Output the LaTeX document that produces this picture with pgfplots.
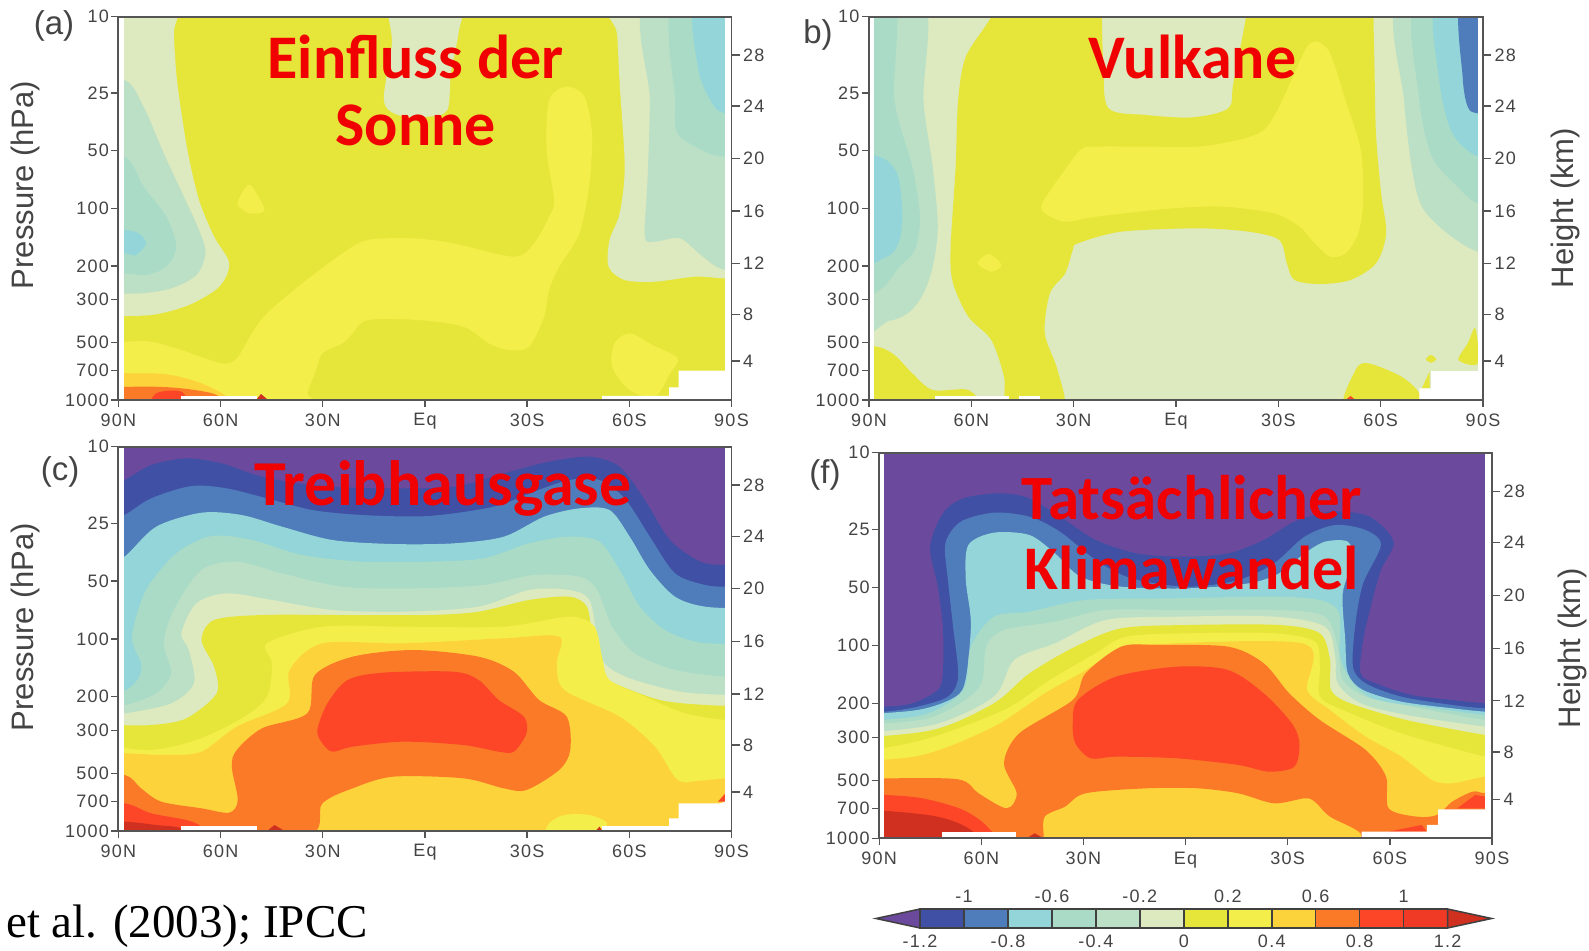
\documentclass[border=0pt]{standalone}
\usepackage{fontspec}
\usepackage{pgfplots}
\pgfplotsset{compat=1.18}
\setmainfont{Liberation Sans}
\newfontfamily\tickf[LetterSpace=7]{Liberation Sans}
\newfontfamily\titlefont{Carlito}
\newfontfamily\serifx{Liberation Serif}
\definecolor{cP}{HTML}{6B4A9E}
\definecolor{cD}{HTML}{3F50A5}
\definecolor{cB}{HTML}{4F7CBA}
\definecolor{cT}{HTML}{93D5D8}
\definecolor{cGa}{HTML}{A9DBC6}
\definecolor{cGb}{HTML}{BCE0C6}
\definecolor{cL}{HTML}{DDE9BE}
\definecolor{cYa}{HTML}{E6E63A}
\definecolor{cYb}{HTML}{F4EE4A}
\definecolor{cOa}{HTML}{FDD33C}
\definecolor{cOb}{HTML}{FA7A28}
\definecolor{cRa}{HTML}{FD4528}
\definecolor{cRb}{HTML}{F03A26}
\definecolor{cRc}{HTML}{D0301F}
\definecolor{axgray}{HTML}{555555}
\definecolor{txgray}{HTML}{444444}
\definecolor{ttl}{HTML}{F00000}
\newcommand\fs[1]{\fontsize{#1}{#1}\selectfont}
% closed smooth region
\newcommand\reg[2]{\addplot[fill=#1,draw=none,smooth cycle,tension=0.5] coordinates {#2};}
% region under a contour that runs from left to right
\newcommand\band[4]{\addplot[fill=#1,draw=none,smooth cycle,tension=0.5] coordinates {(-100,#2) #4 (1700,#3) (1800,3000) (-300,3000)};}
% straight-edged region
\newcommand\poly[2]{\addplot[fill=#1,draw=none] coordinates {#2};}
\pgfplotsset{
 panel/.style n args={8}{
  at={(#1pt,#2pt)},anchor=south west,scale only axis,width=#3pt,height=#4pt,
  xmin=-90,xmax=90,x dir=reverse,ymin=1,ymax=3,y dir=reverse,
  x filter/.expression={90-180*(x-#5)/(#6-#5)},
  y filter/.expression={1+2*(y-#7)/(#8-#7)},
  axis on top,
  xtick={90,60,30,0,-30,-60,-90},
  xticklabels={90N,60N,30N,Eq,30S,60S,90S},
  ytick={1,1.398,1.699,2,2.301,2.477,2.699,2.845,3},
  yticklabels={10,25,50,100,200,300,500,700,1000},
  xtick pos=bottom,ytick pos=left,tick align=outside,major tick length=7pt,
  axis line style={line width=1.8pt,color=axgray},
  tick style={line width=1.3pt,color=axgray},
  tick label style={font=\tickf\fs{18},text=txgray},
  xticklabel style={yshift=-3pt},
  yticklabel style={xshift=1pt},
 },
 rightax/.style n args={4}{
  at={(#1pt,#2pt)},anchor=south west,scale only axis,width=#3pt,height=#4pt,
  xmin=0,xmax=1,ymin=1,ymax=3,y dir=reverse,
  hide x axis,axis y line*=right,
  ytick={1.2,1.466,1.739,2.014,2.287,2.553,2.797},
  yticklabels={28,24,20,16,12,8,4},
  tick align=outside,major tick length=8pt,
  axis line style={line width=1.8pt,color=axgray},
  tick style={line width=1.3pt,color=axgray},
  tick label style={font=\tickf\fs{18},text=txgray},
 },
}
\newcommand\lab[4]{\node[inner sep=0pt,anchor=center,#4] at (#1pt,{(950-#2)*1pt}) {#3};}
\begin{document}
\begin{tikzpicture}
\path[use as bounding box] (0pt,0pt) rectangle (1589pt,950pt);
%------------------------ panel a
\begin{axis}[panel={118.4}{550}{613.1}{383.3}{235}{1452}{50}{1200}]
\poly{cYa}{(200,0)(1500,0)(1500,1250)(200,1250)}
\reg{cL}{(150,0)(345,0)(345,100)(352,250)(372,450)(395,600)(425,710)(455,790)(435,860)(375,915)(300,945)(200,948)(150,948)}
\reg{cGb}{(150,240)(247,240)(285,320)(325,460)(365,590)(395,690)(408,760)(390,825)(340,865)(280,880)(200,880)(150,880)}
\reg{cGa}{(150,470)(247,470)(285,560)(330,650)(350,740)(330,800)(290,825)(247,820)(150,820)}
\reg{cT}{(200,690)(247,690)(275,700)(290,730)(270,765)(247,760)(200,760)}
\reg{cYb}{(497,555)(525,630)(495,640)(472,615)(480,580)}
\reg{cL}{(778,0)(778,130)(762,300)(790,345)(850,350)(888,330)(895,220)(910,100)(912,0)}
\reg{cL}{(1220,0)(1225,100)(1230,250)(1240,500)(1230,640)(1210,720)(1208,800)(1240,840)(1300,845)(1380,830)(1440,835)(1550,835)(1550,0)}
\reg{cGb}{(1285,0)(1290,300)(1285,550)(1280,710)(1300,725)(1350,715)(1395,770)(1440,810)(1550,820)(1550,0)}
\reg{cGa}{(1340,0)(1340,300)(1345,400)(1400,455)(1440,470)(1550,470)(1550,0)}
\reg{cT}{(1385,0)(1385,200)(1410,300)(1440,340)(1550,345)(1550,0)}
\reg{cYb}{(200,1025)(247,1025)(300,1025)(360,1050)(440,1090)(470,1075)(500,1000)(530,940)(600,850)(680,760)(730,720)(820,715)(900,730)(1020,770)(1060,730)(1090,650)(1100,600)(1085,450)(1090,300)(1125,260)(1160,290)(1175,400)(1170,550)(1150,700)(1110,800)(1090,870)(1080,950)(1050,1040)(1010,1050)(970,1030)(920,980)(830,960)(730,960)(700,1000)(680,1030)(640,1060)(625,1120)(610,1180)(610,1230)(200,1230)}
\reg{cYb}{(1250,1000)(1295,1035)(1345,1075)(1330,1120)(1300,1190)(1250,1170)(1215,1100)(1220,1030)}
\reg{cOa}{(150,1130)(280,1120)(340,1125)(400,1150)(450,1190)(450,1230)(150,1230)}
\reg{cOb}{(150,1170)(280,1160)(360,1165)(430,1185)(440,1230)(150,1230)}
\reg{cRa}{(310,1180)(360,1175)(375,1230)(300,1230)}
\poly{white}{(360,1188)(510,1188)(510,1230)(360,1230)}
\poly{white}{(1195,1188)(1328,1188)(1328,1162)(1347,1162)(1347,1112)(1440,1112)(1440,1230)(1195,1230)}
\poly{cRc}{(510,1197)(518,1182)(530,1197)}
\poly{white}{(200,0)(247,0)(247,1250)(200,1250)}
\poly{white}{(1440,0)(1500,0)(1500,1250)(1440,1250)}
\end{axis}
\begin{axis}[rightax={118.4}{550}{613.1}{383.3}]\end{axis}
%------------------------ panel b
\begin{axis}[panel={869}{550}{614}{383.3}{155}{1360}{50}{1200}]
\poly{cL}{(100,0)(1420,0)(1420,1250)(100,1250)}
\reg{cGb}{(100,0)(262,0)(262,300)(280,500)(290,680)(280,800)(262,880)(235,935)(195,962)(100,965)}
\reg{cGa}{(100,0)(205,0)(205,300)(240,500)(255,650)(245,750)(215,800)(175,870)(100,880)}
\reg{cT}{(100,470)(175,470)(210,520)(220,630)(215,720)(190,770)(100,800)}
\reg{cYa}{(395,0)(395,50)(345,170)(330,300)(325,500)(315,750)(320,850)(350,950)(395,1020)(420,1130)(430,1230)(535,1230)(525,1110)(500,1000)(510,880)(540,820)(555,750)(565,730)(650,695)(800,685)(900,695)(960,720)(975,790)(990,840)(1040,852)(1100,840)(1150,790)(1170,700)(1160,580)(1150,400)(1147,200)(1145,50)(1145,0)(895,0)(895,50)(870,250)(860,325)(790,352)(700,345)(625,325)(615,200)(612,50)(612,0)}
\reg{cYb}{(1035,125)(1060,160)(1090,300)(1120,450)(1125,600)(1115,700)(1090,760)(1060,770)(1030,730)(1000,680)(950,640)(850,620)(750,625)(600,650)(540,665)(500,640)(495,610)(530,530)(570,450)(600,440)(700,440)(800,440)(880,420)(930,390)(960,320)(990,220)(1015,140)}
\reg{cYb}{(390,762)(415,795)(395,815)(368,790)}
\reg{cYa}{(100,1040)(170,1040)(205,1065)(240,1120)(280,1170)(350,1170)(360,1230)(100,1230)}
\reg{cYa}{(1090,1230)(1110,1110)(1135,1090)(1200,1130)(1235,1180)(1235,1230)}
\reg{cYa}{(1345,985)(1350,1090)(1312,1080)(1330,1030)}
\poly{cYa}{(1255,1115)(1255,1165)(1240,1165)}
\reg{cYa}{(1258,1065)(1268,1078)(1258,1088)(1248,1078)}
\reg{cGb}{(1195,0)(1205,300)(1220,500)(1240,620)(1290,700)(1350,755)(1420,760)(1420,0)}
\reg{cGa}{(1230,0)(1235,300)(1260,470)(1310,560)(1350,610)(1420,620)(1420,0)}
\reg{cT}{(1270,0)(1275,250)(1300,400)(1350,470)(1420,480)(1420,0)}
\reg{cB}{(1317,0)(1320,230)(1330,320)(1350,340)(1420,345)(1420,0)}
\poly{white}{(285,1188)(430,1188)(430,1230)(285,1230)}
\poly{white}{(450,1188)(490,1188)(490,1230)(450,1230)}
\poly{white}{(1235,1188)(1235,1165)(1258,1165)(1258,1113)(1350,1113)(1350,1230)(1235,1230)}
\poly{cRa}{(1090,1200)(1100,1188)(1110,1200)}
\poly{white}{(100,0)(165,0)(165,1250)(100,1250)}
\poly{white}{(1350,0)(1420,0)(1420,1250)(1350,1250)}
\end{axis}
\begin{axis}[rightax={869}{550}{614}{383.3}]\end{axis}
%------------------------ panel c
\begin{axis}[panel={118.4}{119}{613.1}{384.3}{235}{1452}{50}{1203}]
\poly{cP}{(200,0)(1500,0)(1500,1250)(200,1250)}
\band{cD}{170}{410}{(200,170)(247,150)(300,105)(370,85)(440,100)(520,140)(620,165)(750,175)(900,170)(1000,130)(1090,95)(1170,80)(1230,110)(1280,210)(1330,330)(1390,395)(1440,405)(1500,410)}
\band{cB}{280}{470}{(200,280)(247,255)(300,205)(380,168)(450,175)(530,205)(620,240)(720,255)(850,258)(980,230)(1060,185)(1130,150)(1190,150)(1240,205)(1290,320)(1340,430)(1400,465)(1440,470)(1500,470)}
\band{cT}{410}{535}{(200,410)(247,380)(310,290)(400,248)(480,255)(560,290)(660,330)(780,342)(900,340)(1000,320)(1080,260)(1150,235)(1210,240)(1250,320)(1290,420)(1340,500)(1400,530)(1500,535)}
\band{cGa}{790}{645}{(200,790)(250,780)(275,745)(280,700)(262,620)(290,480)(350,370)(420,318)(500,330)(600,375)(720,395)(850,395)(960,385)(1050,340)(1130,320)(1190,335)(1230,420)(1270,530)(1320,600)(1380,635)(1440,642)(1500,645)}
\band{cGb}{830}{745}{(200,830)(250,825)(310,790)(340,730)(325,640)(345,540)(400,420)(470,395)(560,430)(680,470)(820,475)(960,465)(1060,435)(1150,440)(1185,480)(1215,590)(1260,670)(1340,720)(1440,740)(1500,745)}
\band{cL}{855}{800}{(200,855)(250,850)(340,820)(385,760)(375,660)(360,610)(390,520)(450,490)(540,510)(660,540)(800,545)(950,530)(1050,480)(1130,480)(1170,510)(1185,620)(1200,700)(1250,745)(1350,785)(1440,795)(1500,800)}
\band{cYa}{885}{828}{(200,885)(300,885)(370,865)(430,790)(425,710)(400,630)(425,570)(520,555)(680,555)(850,555)(950,545)(1050,510)(1130,500)(1165,530)(1175,620)(1185,720)(1220,760)(1310,810)(1400,825)(1500,828)}
\band{cYb}{950}{870}{(200,950)(300,960)(390,930)(480,865)(530,800)(540,700)(530,640)(640,590)(800,590)(1000,590)(1130,560)(1180,590)(1195,680)(1210,750)(1280,800)(1360,850)(1440,870)(1500,870)}
\band{cOa}{975}{1040}{(200,975)(247,970)(330,975)(400,965)(470,890)(570,820)(575,720)(640,640)(800,640)(1000,625)(1110,620)(1105,700)(1120,780)(1230,860)(1300,950)(1345,1050)(1390,1052)(1440,1045)(1500,1040)}
\reg{cOb}{(150,1030)(247,1035)(280,1075)(320,1115)(400,1135)(455,1148)(472,1110)(460,1010)(470,960)(520,895)(610,850)(625,735)(700,680)(820,660)(950,680)(1020,725)(1070,810)(1125,860)(1132,960)(1110,1020)(1045,1080)(1000,1075)(920,1045)(780,1040)(700,1075)(640,1120)(590,1230)(150,1230)}
\reg{cRa}{(630,900)(650,820)(690,750)(760,728)(900,725)(950,750)(990,810)(1040,860)(1045,910)(1020,965)(990,965)(920,945)(800,935)(700,950)(660,965)(640,940)}
\reg{cRa}{(150,1120)(247,1120)(300,1150)(370,1170)(400,1190)(420,1230)(150,1230)}
\reg{cRc}{(150,1175)(247,1175)(310,1185)(360,1195)(370,1230)(150,1230)}
\reg{cYb}{(1090,1180)(1120,1155)(1170,1155)(1205,1180)(1180,1215)(1090,1215)}
\poly{cRc}{(530,1203)(545,1185)(565,1203)}
\poly{cRa}{(1425,1115)(1440,1090)(1440,1115)}
\poly{cRc}{(1182,1203)(1190,1190)(1196,1203)}
\poly{white}{(360,1188)(510,1188)(510,1230)(360,1230)}
\poly{white}{(1195,1188)(1328,1188)(1328,1165)(1347,1165)(1347,1120)(1430,1120)(1440,1115)(1440,1230)(1195,1230)}
\poly{white}{(200,0)(247,0)(247,1250)(200,1250)}
\poly{white}{(1440,0)(1500,0)(1500,1250)(1440,1250)}
\end{axis}
\begin{axis}[rightax={118.4}{119}{613.1}{384.3}]\end{axis}
%------------------------ panel f
\begin{axis}[panel={879.2}{111.7}{612.8}{385.6}{175}{1378}{38}{1195}]
\poly{cP}{(100,0)(1450,0)(1450,1250)(100,1250)}
\band{cD}{800}{790}{(100,800)(185,800)(240,790)(290,750)(300,700)(300,560)(290,440)(275,320)(300,220)(340,175)(410,160)(470,175)(540,240)(600,300)(680,340)(770,350)(860,340)(930,300)(990,245)(1060,215)(1130,225)(1170,270)(1185,315)(1160,390)(1140,500)(1125,600)(1120,700)(1150,730)(1220,765)(1300,780)(1365,790)(1420,790)}
\band{cB}{815}{805}{(100,815)(185,815)(250,800)(310,770)(330,710)(320,560)(310,420)(305,310)(335,245)(400,218)(470,230)(530,275)(600,360)(670,415)(780,440)(880,420)(950,370)(1010,290)(1070,255)(1130,270)(1160,315)(1125,430)(1110,550)(1105,680)(1130,730)(1200,770)(1300,795)(1365,805)(1420,805)}
\band{cT}{825}{815}{(100,825)(250,810)(325,770)(345,715)(355,550)(345,420)(350,315)(400,278)(470,285)(520,340)(570,410)(650,440)(780,445)(900,430)(960,400)(1010,340)(1050,305)(1095,305)(1105,360)(1085,460)(1090,600)(1095,700)(1125,750)(1200,785)(1300,805)(1365,815)(1420,815)}
\band{cGa}{845}{825}{(100,845)(260,825)(340,750)(355,620)(400,530)(470,515)(580,480)(750,475)(950,470)(1040,480)(1078,520)(1080,650)(1105,730)(1150,780)(1240,800)(1365,825)(1420,825)}
\band{cGb}{855}{840}{(100,855)(270,835)(370,745)(385,620)(420,570)(520,545)(620,510)(760,510)(960,510)(1050,530)(1075,620)(1085,720)(1130,770)(1220,800)(1365,840)(1420,840)}
\band{cL}{880}{860}{(100,880)(280,855)(400,770)(440,660)(520,610)(620,540)(760,530)(950,530)(1050,560)(1070,650)(1075,730)(1120,790)(1210,825)(1365,860)(1420,860)}
\band{cYa}{895}{890}{(100,895)(280,870)(400,790)(470,700)(560,620)(650,565)(780,555)(960,555)(1040,580)(1060,660)(1062,750)(1100,790)(1210,840)(1365,885)(1420,890)}
\band{cYb}{940}{950}{(100,940)(260,900)(420,810)(510,720)(600,640)(660,590)(780,580)(950,580)(1030,605)(1040,680)(1040,770)(1085,810)(1200,880)(1365,950)(1420,950)}
\band{cOa}{965}{1010}{(100,965)(260,945)(400,860)(500,760)(570,700)(650,625)(720,612)(1010,612)(1015,750)(1060,810)(1130,890)(1200,950)(1260,1020)(1300,1030)(1365,1010)(1420,1010)}
\reg{cOb}{(100,1015)(185,1015)(330,1018)(370,1060)(425,1105)(445,1060)(420,970)(450,880)(555,780)(580,700)(650,620)(720,615)(860,620)(930,670)(980,760)(1040,840)(1130,930)(1170,1010)(1175,1105)(1230,1130)(1270,1125)(1300,1085)(1340,1055)(1365,1060)(1420,1060)(1420,1250)(1130,1250)(1120,1180)(1060,1130)(1030,1085)(1010,1075)(950,1090)(880,1060)(800,1045)(700,1045)(580,1060)(540,1100)(500,1130)(498,1195)(498,1250)(100,1250)}
\reg{cRa}{(555,850)(565,780)(640,710)(760,680)(860,690)(930,760)(985,850)(1000,910)(990,980)(940,995)(880,975)(760,955)(640,950)(590,955)(560,910)}
\reg{cRa}{(100,1065)(185,1065)(260,1075)(340,1110)(390,1165)(400,1230)(100,1230)}
\reg{cRc}{(100,1115)(270,1125)(350,1165)(370,1230)(100,1230)}
\poly{cRa}{(1175,1175)(1240,1155)(1250,1175)}
\poly{cRa}{(1310,1105)(1345,1065)(1365,1070)(1365,1105)}
\poly{cRc}{(465,1195)(480,1180)(498,1195)}
\poly{white}{(298,1175)(443,1175)(443,1230)(298,1230)}
\poly{white}{(1122,1175)(1250,1175)(1250,1155)(1272,1155)(1272,1108)(1365,1108)(1365,1230)(1122,1230)}
\poly{white}{(100,0)(185,0)(185,1250)(100,1250)}
\poly{white}{(1365,0)(1450,0)(1450,1250)(1365,1250)}
\end{axis}
\begin{axis}[rightax={879.2}{111.7}{612.8}{385.6}]\end{axis}
%------------------------ colour bar
\begin{axis}[at={(876pt,22pt)},anchor=south west,scale only axis,width=615.6pt,height=19pt,
 xmin=-1.4,xmax=1.4,ymin=0,ymax=1,clip=false,axis line style={draw=none},ytick=\empty,
 xtick={-1.2,-0.8,-0.4,0,0.4,0.8,1.2},xticklabels={-1.2,-0.8,-0.4,0,0.4,0.8,1.2},
 xtick pos=bottom,major tick length=0pt,tick label style={font=\tickf\fs{18},text=txgray},
 xticklabel style={yshift=-3pt}]
\newcommand\cb[3]{\addplot[fill=#1,draw=black!75,line width=1.5pt] coordinates {(#2,0)(#3,0)(#3,1)(#2,1)} --cycle;}
\addplot[fill=cP,draw=black!75,line width=1.5pt] coordinates {(-1.4,0.5)(-1.2,1)(-1.2,0)} --cycle;
\cb{cD}{-1.2}{-1}\cb{cB}{-1}{-0.8}\cb{cT}{-0.8}{-0.6}\cb{cGa}{-0.6}{-0.4}\cb{cGb}{-0.4}{-0.2}\cb{cL}{-0.2}{0}
\cb{cYa}{0}{0.2}\cb{cYb}{0.2}{0.4}\cb{cOa}{0.4}{0.6}\cb{cOb}{0.6}{0.8}\cb{cRa}{0.8}{1}\cb{cRb}{1}{1.2}
\addplot[fill=cRc,draw=black!75,line width=1.5pt] coordinates {(1.4,0.5)(1.2,1)(1.2,0)} --cycle;
\end{axis}
\begin{axis}[at={(876pt,22pt)},anchor=south west,scale only axis,width=615.6pt,height=19pt,
 xmin=-1.4,xmax=1.4,ymin=0,ymax=1,axis line style={draw=none},ytick=\empty,
 xtick={-1,-0.6,-0.2,0.2,0.6,1},xticklabels={-1,-0.6,-0.2,0.2,0.6,1},
 xtick pos=top,xticklabel pos=top,major tick length=0pt,tick label style={font=\tickf\fs{18},text=txgray},
 xticklabel style={yshift=3pt}]
\end{axis}
%------------------------ texts
\lab{54}{26}{\fs{33}(a)}{text=txgray}
\lab{818}{35}{\fs{33}b)}{text=txgray}
\lab{60}{472}{\fs{33}(c)}{text=txgray}
\lab{825}{475}{\fs{33}(f)}{text=txgray}
\lab{25}{185}{\fs{31}Pressure (hPa)}{rotate=90,text=txgray}
\lab{25}{627}{\fs{31}Pressure (hPa)}{rotate=90,text=txgray}
\lab{1565}{208}{\fs{31}Height (km)}{rotate=90,text=txgray}
\lab{1572}{648}{\fs{31}Height (km)}{rotate=90,text=txgray}
\lab{415.6}{57}{\titlefont\bfseries\fs{62}Einfluss der}{text=ttl}
\lab{415.6}{125}{\titlefont\bfseries\fs{62}Sonne}{text=ttl}
\lab{1192.6}{57}{\titlefont\bfseries\fs{62}Vulkane}{text=ttl}
\lab{443}{488}{\titlefont\bfseries\fs{64}Treibhausgase}{text=ttl}
\lab{1192}{498}{\titlefont\bfseries\fs{63}Tatsächlicher}{text=ttl}
\lab{1192}{568}{\titlefont\bfseries\fs{62}Klimawandel}{text=ttl}
\node[inner sep=0pt,anchor=west] at (6pt,{(950-926)*1pt}) {\serifx\fs{47}et al. (2003); IPCC};
\end{tikzpicture}
\end{document}
